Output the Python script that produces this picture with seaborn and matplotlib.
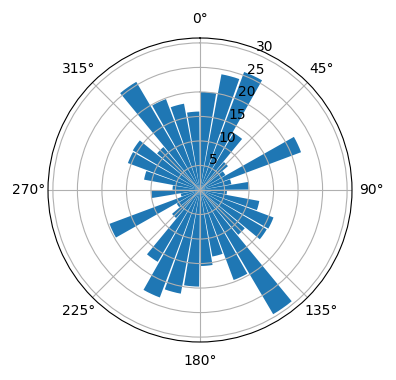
import numpy as np
import matplotlib
matplotlib.use("Agg")
import matplotlib.pyplot as plt
import seaborn as sns

# bar centre angles (degrees, clockwise from north) and radial lengths
angles_deg = [5, 15, 25, 35, 45, 55, 65, 75, 85, 95, 105, 115, 125, 135, 145, 155, 165, 175,
              185, 195, 205, 215, 225, 235, 245, 255, 265, 275, 285, 295, 305, 315, 325, 335, 345, 355]
radii = [20, 24, 25.7, 13.5, 7.5, 6, 22, 6.5, 9.9, 5.5, 12.3, 16, 15.8, 12, 29.4, 19.6, 13.8, 15.5,
         19.7, 21.5, 23.4, 17, 7.5, 5.5, 19.7, 4, 9.9, 5.6, 11.6, 15.7, 15.9, 11.5, 25.6, 19.8, 17.9, 16]
bar_width_deg = 9

color = sns.color_palette("tab10")[0]

fig = plt.figure(figsize=(3.96, 3.80), dpi=100)
ax = fig.add_axes([48 / 396, 38 / 380, 304 / 396, 304 / 380], projection="polar")
ax.set_theta_zero_location("N")
ax.set_theta_direction(-1)
ax.bar(np.deg2rad(angles_deg), radii, width=np.deg2rad(bar_width_deg), color=color)
ax.set_ylim(0, 31)
ax.set_yticks([5, 10, 15, 20, 25, 30])
fig.savefig("out.png", dpi=100)
